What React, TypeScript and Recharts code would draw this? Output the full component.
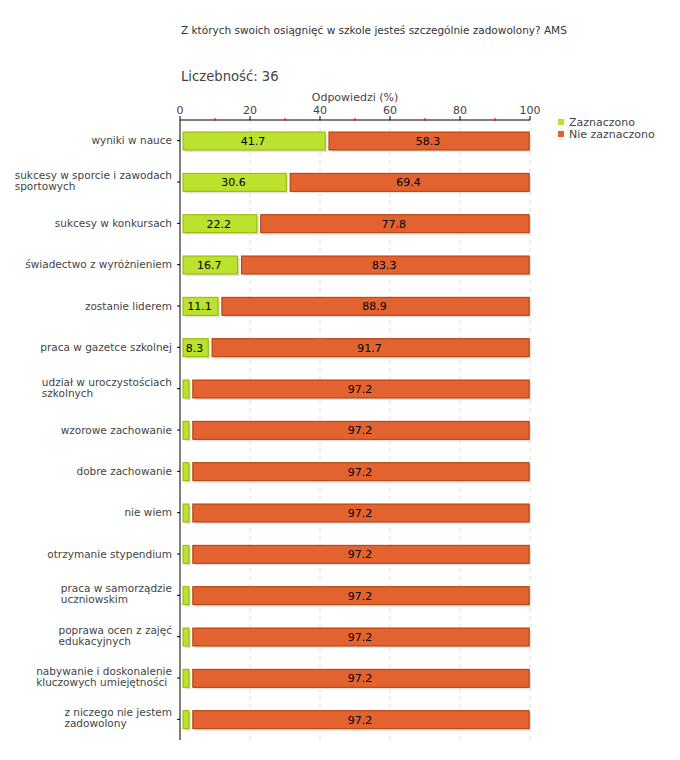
import React from 'react';
import { BarChart, Bar, XAxis, YAxis, CartesianGrid, Legend, LabelList } from 'recharts';

// Categories (line breaks as in the original labels)
const categories = [
  'wyniki w nauce',
  'sukcesy w sporcie i zawodach\nsportowych',
  'sukcesy w konkursach',
  'świadectwo z wyróżnieniem',
  'zostanie liderem',
  'praca w gazetce szkolnej',
  'udział w uroczystościach\nszkolnych',
  'wzorowe zachowanie',
  'dobre zachowanie',
  'nie wiem',
  'otrzymanie stypendium',
  'praca w samorządzie\nuczniowskim',
  'poprawa ocen z zajęć\nedukacyjnych',
  'nabywanie i doskonalenie\nkluczowych umiejętności',
  'z niczego nie jestem\nzadowolony',
];

const seriesNames = ['Zaznaczono', 'Nie zaznaczono'];
const zaznaczono = [41.7, 30.6, 22.2, 16.7, 11.1, 8.3, 2.8, 2.8, 2.8, 2.8, 2.8, 2.8, 2.8, 2.8, 2.8];
const nieZaznaczono = [58.3, 69.4, 77.8, 83.3, 88.9, 91.7, 97.2, 97.2, 97.2, 97.2, 97.2, 97.2, 97.2, 97.2, 97.2];

const axisTicks = [0, 10, 20, 30, 40, 50, 60, 70, 80, 90, 100];
const gridTicks = [20, 40, 60, 80, 100];

const data = categories.map((name, i) => ({
  name,
  zaznaczono: zaznaczono[i],
  nie: nieZaznaczono[i],
}));

const FONT = '"DejaVu Sans", Verdana, sans-serif';
const LABEL_SIZE = 10.5;

let measureCtx: CanvasRenderingContext2D | null = null;
const measure = (text: string) => {
  if (!measureCtx) {
    measureCtx = document.createElement('canvas').getContext('2d');
  }
  if (!measureCtx) return text.length * 6;
  measureCtx.font = `${LABEL_SIZE}px "DejaVu Sans"`;
  return measureCtx.measureText(text).width;
};

const CategoryTick = (props: any) => {
  const { x, y, payload } = props;
  const lines: string[] = String(payload.value).split('\n');
  const w = Math.max(...lines.map(measure));
  const startY = lines.length === 1 ? y + 3.5 : y - 3;
  return (
    <g>
      {lines.map((line, i) => (
        <text
          key={i}
          x={x - w}
          y={startY + i * 11}
          textAnchor="start"
          fill="#444"
          fontSize={LABEL_SIZE}
          fontFamily={FONT}
        >
          {line}
        </text>
      ))}
    </g>
  );
};

const ValueTick = (props: any) => {
  const { x, y, payload } = props;
  const major = payload.value % 20 === 0;
  return (
    <g>
      {major ? (
        <>
          <line x1={x} x2={x} y1={y + 1} y2={y + 5} stroke="#000" />
          <text x={x} y={y - 1} textAnchor="middle" fill="#444" fontSize={11} fontFamily={FONT}>
            {payload.value}
          </text>
        </>
      ) : (
        <line x1={x} x2={x} y1={y + 3} y2={y + 6} stroke="#d00" />
      )}
    </g>
  );
};

const Segment = (props: any) => {
  const { x, y, width, height, fill, stroke } = props;
  if (!width || width <= 0) return <g />;
  const left = x + 3;
  const w = Math.max(width - 3.8, 1);
  return (
    <g>
      <rect x={left + 2} y={y + 2} width={w} height={height} fill="#e2e2e2" />
      <rect x={left} y={y} width={w} height={height} fill={fill} stroke={stroke} strokeWidth={1} />
    </g>
  );
};

const showValue = (v: any) => (Number(v) > 5 ? Number(v).toFixed(1) : '');

const LegendContent = (props: any) => {
  const items = [...(props.payload || [])].sort(
    (a: any, b: any) => seriesNames.indexOf(a.value) - seriesNames.indexOf(b.value)
  );
  return (
    <div style={{ fontFamily: FONT, fontSize: 11, color: '#444' }}>
      {items.map((item: any) => (
        <div key={item.value} style={{ display: 'flex', alignItems: 'center', height: 12 }}>
          <span
            style={{
              display: 'inline-block',
              width: 6,
              height: 6,
              background: item.color,
              marginRight: 5,
            }}
          />
          <span>{item.value}</span>
        </div>
      ))}
    </div>
  );
};

export default function App() {
  return (
    <div style={{ position: 'absolute', left: 0, top: 0, width: 680, height: 760, background: '#fff' }}>
      <svg width={680} height={760} style={{ position: 'absolute', left: 0, top: 0 }}>
        <text x={181} y={34} fill="#333" fontSize={10.5} fontFamily={FONT}>
          Z których swoich osiągnięć w szkole jesteś szczególnie zadowolony? AMS
        </text>
        <text x={181} y={81} fill="#444" fontSize={13.2} fontFamily={FONT}>
          Liczebność: 36
        </text>
      </svg>
      <div style={{ position: 'absolute', left: 0, top: 0 }}>
        <BarChart
          width={680}
          height={760}
          data={data}
          layout="vertical"
          margin={{ top: 90, right: 150, bottom: 20, left: 0 }}
          barSize={18}
        >
          <CartesianGrid
            horizontal={false}
            verticalValues={gridTicks}
            stroke="#dddddd"
            strokeDasharray="4 4"
          />
          <XAxis
            type="number"
            orientation="top"
            domain={[0, 100]}
            ticks={axisTicks}
            interval={0}
            height={30}
            tickLine={false}
            tickSize={5}
            tickMargin={0}
            axisLine={{ stroke: '#000' }}
            tick={<ValueTick />}
            label={{
              value: 'Odpowiedzi (%)',
              position: 'insideTop',
              offset: 3,
              fill: '#444',
              fontSize: 11,
              fontFamily: FONT,
            }}
          />
          <YAxis
            type="category"
            dataKey="name"
            width={180}
            interval={0}
            tickSize={3}
            tickMargin={5}
            axisLine={{ stroke: '#000' }}
            tickLine={{ stroke: '#000' }}
            tick={<CategoryTick />}
          />
          <Legend
            layout="vertical"
            align="center"
            verticalAlign="middle"
            wrapperStyle={{ left: 558, top: 116, width: 120 }}
            content={<LegendContent />}
          />
          <Bar
            dataKey="zaznaczono"
            name={seriesNames[0]}
            stackId="a"
            fill="#bde12f"
            stroke="#92b700"
            shape={<Segment />}
            isAnimationActive={false}
          >
            <LabelList
              dataKey="zaznaczono"
              position="center"
              formatter={showValue}
              fill="#000"
              fontSize={11}
              fontFamily={FONT}
            />
          </Bar>
          <Bar
            dataKey="nie"
            name={seriesNames[1]}
            stackId="a"
            fill="#e2632f"
            stroke="#b33b00"
            shape={<Segment />}
            isAnimationActive={false}
          >
            <LabelList
              dataKey="nie"
              position="center"
              formatter={showValue}
              fill="#000"
              fontSize={11}
              fontFamily={FONT}
            />
          </Bar>
        </BarChart>
      </div>
    </div>
  );
}
